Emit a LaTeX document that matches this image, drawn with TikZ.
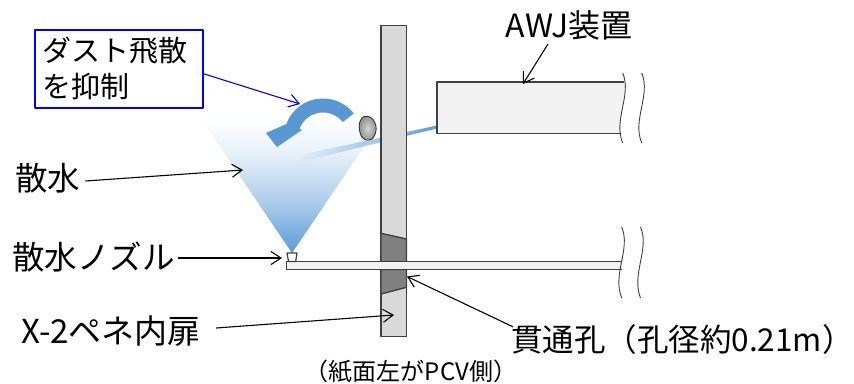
\documentclass[tikz,border=0pt]{standalone}
\usepackage{fontspec}
\setmainfont{Noto Sans CJK JP}
\usetikzlibrary{arrows.meta,fadings}

\definecolor{wallgray}{RGB}{217,217,217}
\definecolor{holegray}{RGB}{128,128,128}
\definecolor{edgegray}{RGB}{64,64,64}
\definecolor{panel}{RGB}{242,242,242}
\definecolor{waterblue}{RGB}{91,155,213}
\definecolor{swirlblue}{RGB}{88,151,210}
\colorlet{wbA}{waterblue!78!white}
\colorlet{wbB}{waterblue!50!white}
\colorlet{wbC}{waterblue!31!white}
\colorlet{wbD}{waterblue!13!white}

% water spray: strong at the nozzle, fading out upwards
\pgfdeclareverticalshading{spraycone}{100bp}{color(0bp)=(waterblue); color(25bp)=(waterblue); color(33bp)=(wbA); color(43bp)=(wbB); color(52bp)=(wbC); color(61bp)=(wbD); color(72bp)=(white); color(100bp)=(white)}
% water jet: opaque at the device, transparent away from it
\tikzfading[name=jetfade, left color=transparent!100, right color=transparent!0]

\begin{document}
\begin{tikzpicture}[x=1pt,y=-1pt,line join=round,
  lbl/.style={font=\fontsize{32.5}{38}\selectfont, inner sep=0pt},
  ptr/.style={-{Straight Barb[length=10pt,width=13pt]}, line width=1.1pt},
  outline/.style={draw=edgegray, line width=1.4pt},
  brk/.style={draw=edgegray, line width=0.9pt}]
\useasboundingbox (0,0) rectangle (854,383);

% spray cone from the nozzle
\shade[shading=spraycone] (292,253) -- (195,110) -- (389,110) -- cycle;
% cutting jet from the AWJ head
\fill[waterblue, path fading=jetfade] (437,125.5) -- (437,128.5) -- (300,162) -- (300,155) -- cycle;

% door wall with the bored hole
\draw[outline, fill=wallgray] (381,25.5) rectangle (406.5,336.5);
\draw[outline, fill=holegray] (381,233.3) -- (406.5,239) -- (406.5,261.5) -- (381,261.5) -- cycle;
\draw[outline, fill=holegray] (381,269.3) -- (406.5,269.3) -- (406.5,287.3) -- (381,294) -- cycle;

% pipe through the hole
\fill[panel] (286.5,261.5) rectangle (621.5,269.3);
\draw[outline] (621.5,261.5) -- (286.5,261.5) -- (286.5,269.3) -- (621.5,269.3);
% nozzle
\draw[outline, line width=1.2pt, fill=white] (287,253) -- (297,253) -- (295.7,261.5) -- (288.5,261.5) -- cycle;

% AWJ device body
\begin{scope}
  \clip (437,82) rectangle (700,133.5);
  \fill[panel] (437,73) -- (622.7,73) .. controls (632,95) and (613,120) .. (622.7,143) -- (437,143) -- cycle;
\end{scope}
\draw[outline] (624,82) -- (437,82) -- (437,133.5) -- (620.5,133.5);

% break marks
\draw[brk] (622.7,73) .. controls (632,95) and (613,120) .. (622.7,143);
\draw[brk] (641.7,73) .. controls (651,95) and (632,120) .. (641.7,143);
\draw[brk] (621.7,227) .. controls (631,249) and (612,274) .. (621.7,298);
\draw[brk] (640.5,227) .. controls (650,249) and (631,274) .. (640.5,298);

% dust particle
\shade[inner color=gray!35, outer color=gray!85, draw=gray!40!black, line width=0.9pt]
  plot[smooth cycle] coordinates {(363,117) (368.5,116.5) (373,119.5) (376,126) (375.5,133) (372,139) (366,140) (361.5,136.5) (359.5,130) (359.5,123)};

% curved arrow
\fill[swirlblue]
  plot[domain=-38:-160, samples=40] ({323+39*cos(\x)},{137.5+39*sin(\x)})
  -- (266,133) -- (277,147) -- (302,130)
  -- plot[domain=-160:-38, samples=40] ({323+25*cos(\x)},{137.5+25*sin(\x)}) -- cycle;

% arrow targets
\coordinate (swirlTip) at (300,104);
\coordinate (waterTip) at (243,170);
\coordinate (nozzleTip) at (282,258);
\coordinate (doorTip) at (394,315);
\coordinate (holeTip) at (407,276.5);
\coordinate (awjTip) at (523,84);

% labels
\node[draw=blue, line width=1.5pt, minimum width=168pt, minimum height=78pt, anchor=north west,
      align=left, inner xsep=8pt, font=\fontsize{29}{36}\selectfont, text width=152pt] (dust) at (34,29) {ダスト飛散\\を抑制};
\node[lbl, anchor=west] (water) at (15,178) {散水};
\node[lbl, anchor=west] (nozzle) at (12,257) {散水ノズル};
\node[lbl, anchor=west, font=\fontsize{33}{38}\selectfont] (door) at (21,331) {X-2ペネ内扉};
\node[lbl, anchor=west, font=\fontsize{31.5}{38}\selectfont] (hole) at (511,340) {貫通孔（孔径約0.21m）};
\node[lbl, font=\fontsize{32}{38}\selectfont] (awj) at (569,25) {AWJ装置};
\node[font=\fontsize{24}{28}\selectfont, inner sep=0pt] (side) at (411,371) {（紙面左がPCV側）};

% leader arrows
\draw[ptr, blue] ([yshift=-5pt]dust.east) -- (swirlTip);
\draw[ptr] (water.east) ++(5,3) -- (waterTip);
\draw[ptr] (nozzle.east) ++(3,1) -- (nozzleTip);
\draw[ptr] (door.east) ++(15,-3) -- (doorTip);
\draw[ptr] ([xshift=2pt]hole.north west) ++(0,2) -- (holeTip);
\draw[ptr] (awj.south) ++(-21,4) -- (awjTip);
\end{tikzpicture}
\end{document}
